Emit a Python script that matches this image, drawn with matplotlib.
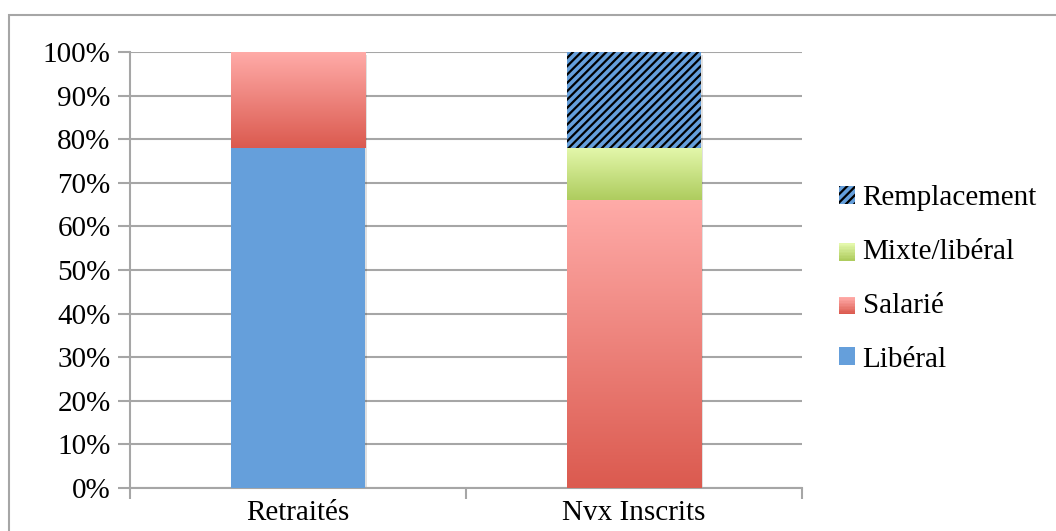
import numpy as np
import matplotlib
matplotlib.use("Agg")
import matplotlib.pyplot as plt
from matplotlib.patches import Rectangle
from matplotlib.colors import LinearSegmentedColormap
from matplotlib.legend_handler import HandlerBase

# données : répartition par mode d'exercice (%)
categories = ["Retraités", "Nvx Inscrits"]
liberal = [78, 0]
salarie = [22, 66]
mixte = [0, 12]
remplacement = [0, 22]
legende = ["Remplacement", "Mixte/libéral", "Salarié", "Libéral"]

bleu = "#659FDB"
rouge_haut, rouge_bas = "#FFABA8", "#DB5A4F"
vert_haut, vert_bas = "#E4F8AC", "#AECC5E"
gris = "#A6A6A6"

plt.rcParams["font.family"] = ["Liberation Serif", "DejaVu Serif"]
plt.rcParams["hatch.linewidth"] = 1.6

fig = plt.figure(figsize=(10.56, 5.31), dpi=100)
ax = fig.add_axes([130 / 1056, 1 - 488 / 531, 672 / 1056, 436 / 531])

# cadre autour du graphique
fig.patches.append(Rectangle((9 / 1056, -0.1), 1.2, 1 - 15 / 531 + 0.1,
                             transform=fig.transFigure, fill=False,
                             edgecolor=gris, linewidth=1.5))

larg = 0.4
x = np.arange(len(categories))


def degrade(ax, xc, bas, haut, c_haut, c_bas):
    if haut - bas <= 0:
        return
    cmap = LinearSegmentedColormap.from_list("g", [c_bas, c_haut])
    grad = np.linspace(1, 0, 256).reshape(-1, 1)
    ax.imshow(grad, cmap=cmap, aspect="auto", zorder=3,
              extent=(xc - larg / 2, xc + larg / 2, bas, haut))


bas = np.zeros(len(categories))
for i, xc in enumerate(x):
    # ombre légère
    total = liberal[i] + salarie[i] + mixte[i] + remplacement[i]
    ax.add_patch(Rectangle((xc - larg / 2 + 0.006, -0.6), larg, total,
                           facecolor="black", alpha=0.12, linewidth=0, zorder=2))

ax.bar(x, liberal, larg, color=bleu, linewidth=0, zorder=3)
bas += liberal
for i, xc in enumerate(x):
    degrade(ax, xc, bas[i], bas[i] + salarie[i], rouge_haut, rouge_bas)
bas += salarie
for i, xc in enumerate(x):
    degrade(ax, xc, bas[i], bas[i] + mixte[i], vert_haut, vert_bas)
bas += mixte
ax.bar(x, remplacement, larg, bottom=bas, facecolor=bleu, edgecolor="black",
       hatch="////", linewidth=0, zorder=3)

ax.set_xlim(-0.5, 1.5)
ax.set_ylim(0, 100)
ax.set_yticks(np.arange(0, 101, 10))
ax.set_yticklabels([f"{v}%" for v in range(0, 101, 10)])
ax.yaxis.grid(True, color=gris, linewidth=1.5, zorder=0)
ax.set_axisbelow(True)

ax.set_xticks([-0.5, 0.5, 1.5])
ax.set_xticklabels([])
ax.set_xticks(x, minor=True)
ax.set_xticklabels(categories, minor=True)
ax.tick_params(axis="x", which="major", length=8, color=gris, width=1.5)
ax.tick_params(axis="x", which="minor", length=0, pad=9, labelsize=21)
ax.tick_params(axis="y", length=9, color=gris, width=1.5, pad=5, labelsize=21)

for s in ["top", "right"]:
    ax.spines[s].set_visible(False)
for s in ["left", "bottom"]:
    ax.spines[s].set_color(gris)
    ax.spines[s].set_linewidth(1.5)


class HandlerDegrade(HandlerBase):
    def __init__(self, c_haut, c_bas):
        super().__init__()
        self.c_haut, self.c_bas = c_haut, c_bas

    def create_artists(self, legend, orig, xd, yd, w, h, fontsize, trans):
        cmap = LinearSegmentedColormap.from_list("g", [self.c_bas, self.c_haut])
        n = 12
        arts = []
        for k in range(n):
            arts.append(Rectangle((xd, yd + k * h / n), w, h / n + 0.2,
                                  facecolor=cmap(k / (n - 1)), linewidth=0,
                                  transform=trans))
        return arts


h_rempl = Rectangle((0, 0), 1, 1, facecolor=bleu, edgecolor="black",
                    hatch="////", linewidth=0)
h_mixte = Rectangle((0, 0), 1, 1)
h_sal = Rectangle((0, 0), 1, 1)
h_lib = Rectangle((0, 0), 1, 1, facecolor=bleu, linewidth=0)

fig.legend([h_rempl, h_mixte, h_sal, h_lib], legende,
           handler_map={h_mixte: HandlerDegrade(vert_haut, vert_bas),
                        h_sal: HandlerDegrade(rouge_haut, rouge_bas)},
           loc="center left", bbox_to_anchor=(813 / 1056, 1 - 279 / 531),
           frameon=False, fontsize=21, handlelength=0.55, handleheight=0.55,
           handletextpad=0.25, labelspacing=0.95)

fig.savefig("out.png", dpi=100)
